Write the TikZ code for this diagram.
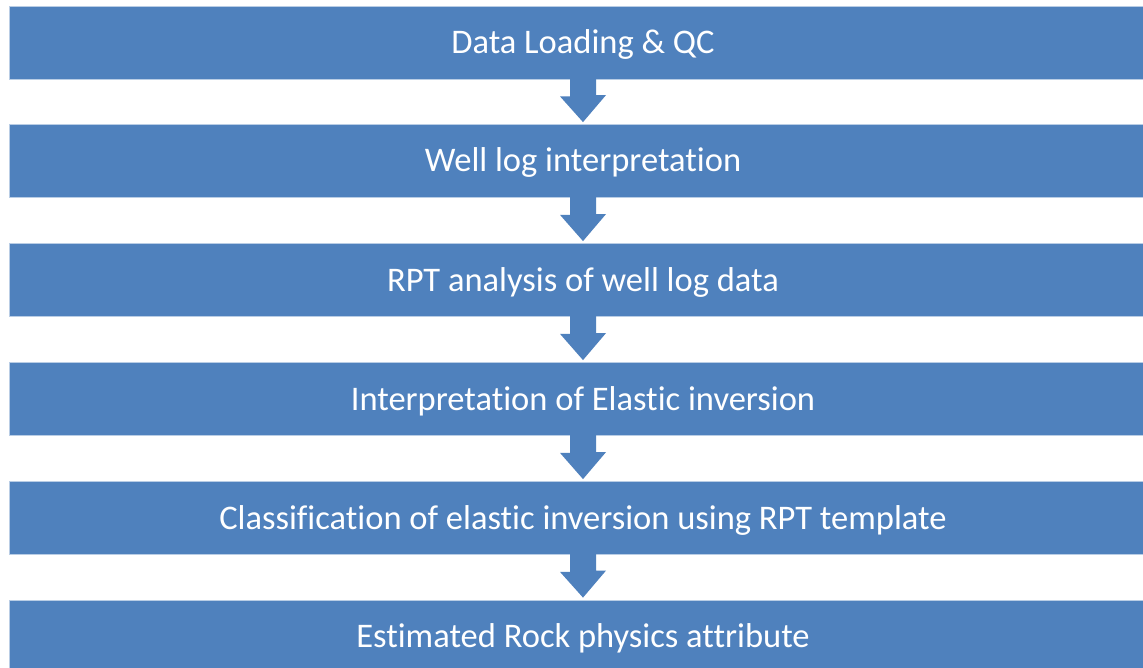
\documentclass[tikz,border=0pt]{standalone}
\usepackage{fontspec}
\setmainfont{Carlito}[Ligatures=NoCommon]
\usetikzlibrary{calc}
\definecolor{boxblue}{HTML}{4F81BD}
\definecolor{boxedge}{HTML}{B9CDE5}
\tikzset{
  stage/.style={rectangle, fill=boxblue, draw=boxedge, line width=0.8pt,
    minimum width=1147pt, minimum height=73pt, inner sep=0pt,
    text height=22pt, text depth=0pt,
    text=white, font=\fontsize{34.5}{40}\selectfont},
  flowarrow/.style={fill=boxblue, draw=none}
}
% block arrow from the bottom of one stage to the top of the next
\newcommand{\blockarrow}[2]{%
  \fill[flowarrow] ($(#1.south)+(-13,-1)$) -- ++(0,18) -- ++(-10,0)
    -- ($(#2.north)+(0,-2)$) -- ++(23,-27) -- ++(-10,0)
    -- ($(#1.south)+(13,-1)$) -- cycle;}
\begin{document}
\begin{tikzpicture}[x=1pt,y=-1pt]
  \fill[white] (0,0) rectangle (1143,668);
  \useasboundingbox (0,0) rectangle (1143,668);
  \begin{scope}
    \clip (0,0) rectangle (1143,668);
    \node[stage] (s1) at (583,42.5) {Data Loading \& QC};
    \node[stage] (s2) at (583,161) {Well log interpretation};
    \node[stage] (s3) at (583,280) {RPT analysis of well log data};
    \node[stage] (s4) at (583,399) {Interpretation of Elastic inversion};
    \node[stage] (s5) at (583,518) {Classification of elastic inversion using RPT template};
    \node[stage] (s6) at (583,636.5) {Estimated Rock physics attribute};
    \blockarrow{s1}{s2}
    \blockarrow{s2}{s3}
    \blockarrow{s3}{s4}
    \blockarrow{s4}{s5}
    \blockarrow{s5}{s6}
  \end{scope}
\end{tikzpicture}
\end{document}
